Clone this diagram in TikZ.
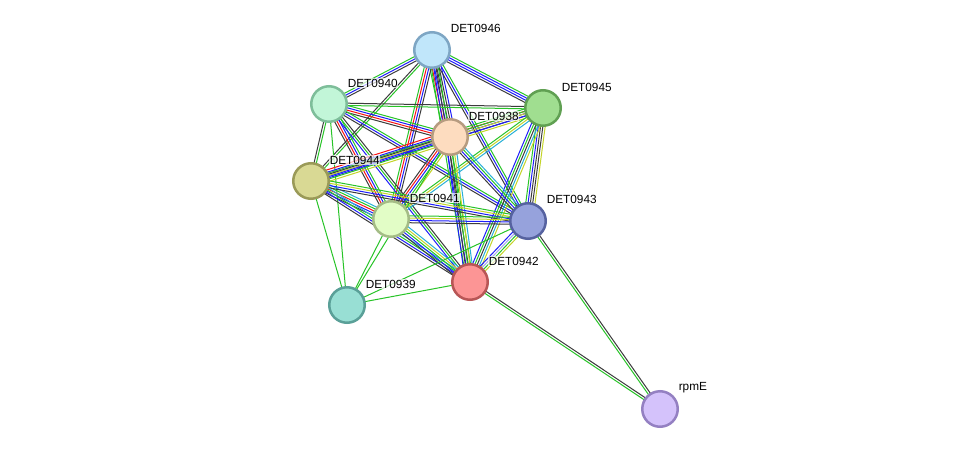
\documentclass[tikz,border=0pt]{standalone}
\usepackage{fontspec}
\setmainfont{Liberation Sans}
\usetikzlibrary{calc,backgrounds}
\definecolor{eg}{RGB}{40,196,40}
\definecolor{er}{RGB}{250,20,20}
\definecolor{eb}{RGB}{30,30,250}
\definecolor{ec}{RGB}{40,176,215}
\definecolor{ek}{RGB}{60,60,60}
\definecolor{ey}{RGB}{196,212,40}
\definecolor{el}{RGB}{165,165,240}
\newcommand\sedge[3]{%
  \foreach \col [count=\i] in {#3}{\xdef\nn{\i}}%
  \foreach \col [count=\i] in {#3}{%
    \pgfmathsetmacro\off{(\i-(\nn+1)/2)*2.3}%
    \draw[\col,line width=1pt] ($(#1)!\off pt!90:(#2)$) -- ($(#2)!\off pt!-90:(#1)$);
  }}
\tikzset{
  prot/.style={circle,minimum size=35.5pt,inner sep=0pt,line width=2.5pt},
  lbl/.style={anchor=west,font=\fontsize{11.8}{13}\selectfont,inner sep=0.6pt,fill=white,fill opacity=0.7,text opacity=1}
}
\begin{document}
\begin{tikzpicture}[x=1pt,y=-1pt]
\node[prot,fill={rgb,255:red,192;green,230;blue,250},draw={rgb,255:red,126;green,166;blue,196}] (n46) at (432,50) {};
\node[prot,fill={rgb,255:red,194;green,246;blue,216},draw={rgb,255:red,126;green,190;blue,154}] (n40) at (329,104) {};
\node[prot,fill={rgb,255:red,160;green,222;blue,144},draw={rgb,255:red,96;green,160;blue,82}] (n45) at (543,108) {};
\node[prot,fill={rgb,255:red,253;green,220;blue,191},draw={rgb,255:red,182;green,155;blue,128}] (n38) at (450,137) {};
\node[prot,fill={rgb,255:red,217;green,217;blue,148},draw={rgb,255:red,154;green,154;blue,88}] (n44) at (311,181) {};
\node[prot,fill={rgb,255:red,226;green,253;blue,198},draw={rgb,255:red,164;green,188;blue,134}] (n41) at (391,219) {};
\node[prot,fill={rgb,255:red,150;green,162;blue,220},draw={rgb,255:red,86;green,98;blue,160}] (n43) at (528,221) {};
\node[prot,fill={rgb,255:red,252;green,149;blue,149},draw={rgb,255:red,184;green,86;blue,86}] (n42) at (470,282) {};
\node[prot,fill={rgb,255:red,152;green,223;blue,212},draw={rgb,255:red,90;green,160;blue,152}] (n39) at (347,305) {};
\node[prot,fill={rgb,255:red,212;green,194;blue,251},draw={rgb,255:red,148;green,128;blue,194}] (nrp) at (660,409) {};
\node[lbl] (l46) at (450,28) {DET0946};
\node[lbl] (l40) at (347,83) {DET0940};
\node[lbl] (l45) at (561,87) {DET0945};
\node[lbl] (l38) at (468,116) {DET0938};
\node[lbl] (l44) at (329,160) {DET0944};
\node[lbl] (l41) at (409,198) {DET0941};
\node[lbl] (l43) at (546,199) {DET0943};
\node[lbl] (l42) at (488,261) {DET0942};
\node[lbl] (l39) at (365,284) {DET0939};
\node[lbl] (lrp) at (678,388) {rpmE};
\begin{scope}[on background layer]
\path[fill=white,use as bounding box] (0,0) rectangle (975,455);
\sedge{n46}{n40}{eg,eb,ek}
\sedge{n46}{n45}{ek,eb,eb,eg}
\sedge{n46}{n38}{eg,er,eb,ek,ek,eb}
\sedge{n46}{n44}{ek,eg}
\sedge{n46}{n41}{eg,er,eb,ek}
\sedge{n46}{n43}{ek,eb,eg}
\sedge{n46}{n42}{eg,eb,ek,eg}
\sedge{n40}{n45}{eg,ek}
\sedge{n40}{n38}{ek,er,eb,eg}
\sedge{n40}{n44}{ek,eg}
\sedge{n40}{n41}{ek,er,eb,eg}
\sedge{n40}{n43}{ek,eb,eg}
\sedge{n40}{n42}{eb,eg,ek}
\sedge{n40}{n39}{eg}
\sedge{n45}{n38}{eg,er,eb,ek,ey}
\sedge{n45}{n44}{eg,ey,eb}
\sedge{n45}{n41}{eg,ey,ec}
\sedge{n45}{n43}{eg,eb,ek,ek,ey}
\sedge{n45}{n42}{eb,eg,ek,ec,ey}
\sedge{n38}{n44}{er,eb,ek,eb,eg,ey}
\sedge{n38}{n41}{ek,er,eb,eg,ey}
\sedge{n38}{n43}{ek,eb,eg,ec}
\sedge{n38}{n42}{eb,ek,eg,ey,ec}
\sedge{n38}{n39}{eg}
\sedge{n44}{n41}{ek,eb,er,eg,ec}
\sedge{n44}{n43}{ek,eb,ey,eg}
\sedge{n44}{n42}{ek,eb,eg,ec}
\sedge{n44}{n39}{eg}
\sedge{n41}{n43}{ek,eb,ey,eg}
\sedge{n41}{n42}{ek,eb,eg,ey,ec}
\sedge{n41}{n39}{eg}
\sedge{n43}{n42}{eb,el,eg,ey}
\sedge{n43}{n39}{eg}
\sedge{n42}{n39}{eg}
\sedge{n43}{nrp}{eg,ek}
\sedge{n42}{nrp}{eg,ek}
\end{scope}
\end{tikzpicture}
\end{document}
